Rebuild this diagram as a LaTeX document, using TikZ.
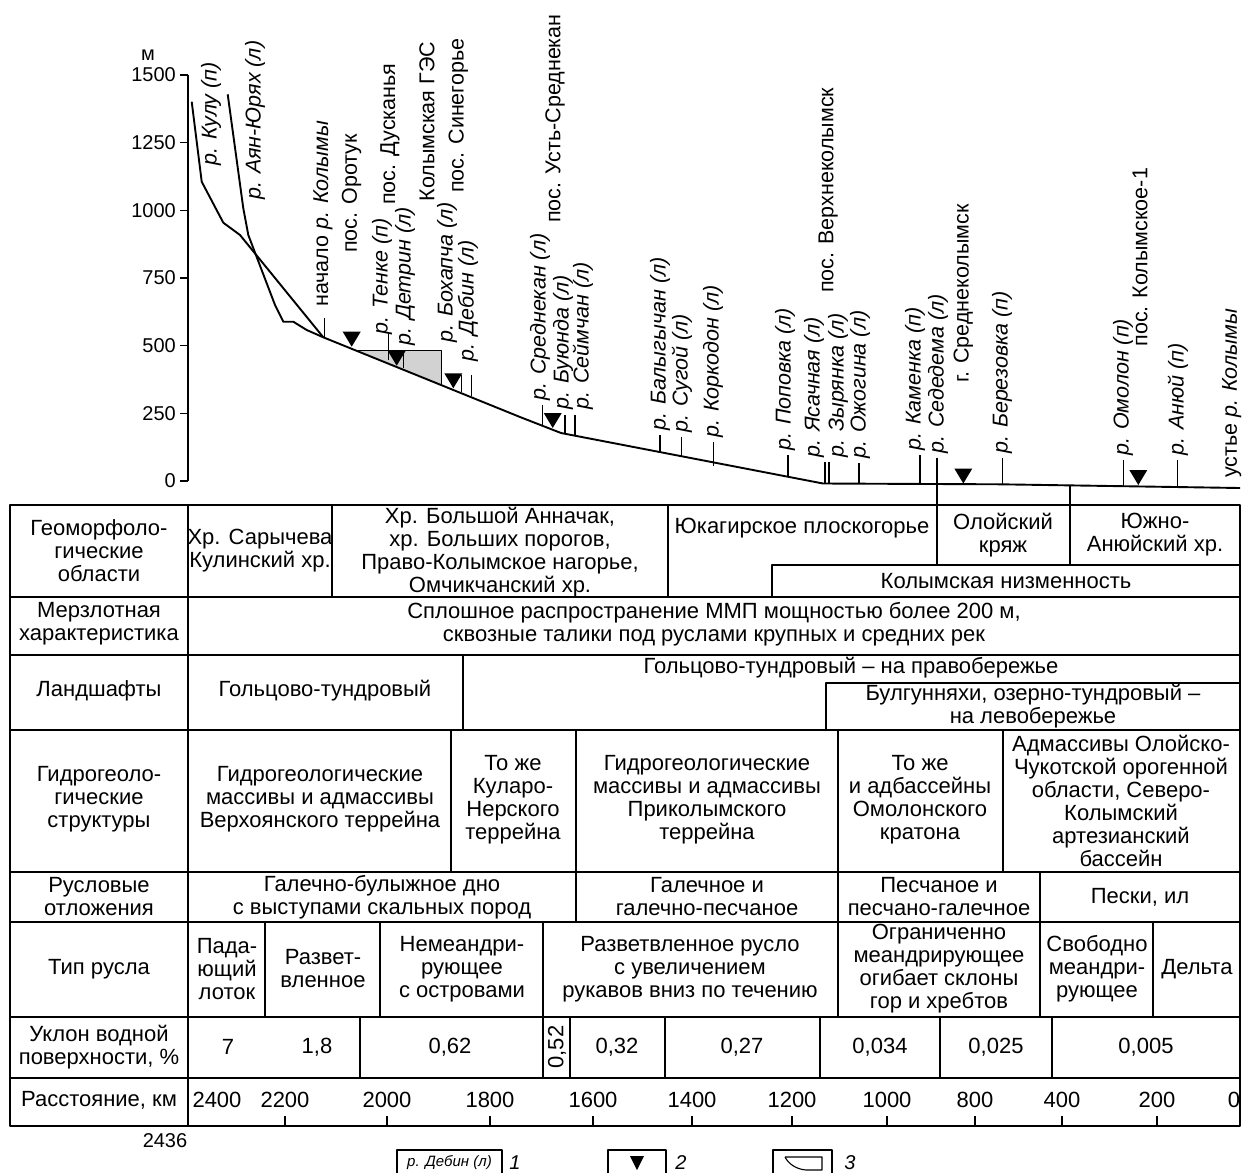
\documentclass[tikz,border=0pt]{standalone}
\usepackage{fontspec}
\setmainfont{Liberation Sans}
\begin{document}
\begin{tikzpicture}[x=1pt,y=-1pt,line join=round]
    \tikzstyle{cell}=[align=center,inner sep=0pt,font=\fontsize{22}{23}\selectfont]
    \tikzstyle{river}=[rotate=90,anchor=west,inner sep=0pt,font=\fontsize{21.5}{23}\selectfont\itshape]
    \tikzstyle{place}=[rotate=90,anchor=west,inner sep=0pt,font=\fontsize{21.5}{23}\selectfont]
    \tikzstyle{rule}=[line width=1.6pt]
    \tikzstyle{thin}=[line width=1.1pt]
    \tikzstyle{profile}=[line width=1.9pt]
    \useasboundingbox (0,0) rectangle (1242,1173);

    % height axis
    \draw[thin] (188,75) -- (188,481);
    \foreach \h/\y in {0/481, 250/413.3, 500/345.7, 750/278, 1000/210.3, 1250/142.7, 1500/75}
        {\draw[thin] (180,\y) -- (188,\y);
         \node[anchor=east,inner sep=0pt,font=\fontsize{20}{22}\selectfont] (ax-\h) at (176,\y) {\h};}
    \node[font=\fontsize{20}{22}\selectfont] (ax-unit) at (148,55) {м};

    % reservoir
    \fill[gray!35] (358,350.6) -- (441.7,350.6) -- (441.7,384.8) -- cycle;
    \draw[thin] (358,350.6) -- (441.7,350.6) -- (441.7,384.8);

    % profiles
    \draw[profile] (191.7,101.7) -- (201.7,181.7) -- (223.3,222.7) -- (240,235) -- (323.3,337.3);
    \draw[profile] (227.7,94.3) -- (243.3,208.3) -- (248.3,235) -- (275,305) -- (283.3,321.7)
        -- (293.3,321.7) -- (306.7,330) -- (323.3,337.3);
    \draw[profile] (323.3,337.3) -- (520,417) -- (561,433) -- (823,483.5) -- (1000,484.3) -- (1240,488);

    % tributaries
    \foreach \x/\t/\b in {324.5/318/337, 388.3/333/360, 403.3/350/368, 461.7/375/392, 471.7/375/396,
            542.7/405/426, 565/415/433, 575/415/435, 660/435/452, 681.7/437/456, 713.3/442/466,
            788/455/476, 825/462/483.5, 829/462/483.5, 859/463/483.5, 920/455/483.5,
            1002.5/458/484.3, 1123.3/460/485.5, 1177.7/460/486.5}
        \draw[thin] (\x,\t) -- (\x,\b);

    % gauging stations
    \foreach \x/\t in {351.7/331.7, 396.7/350.7, 453.3/373.3, 552.7/413, 963.3/468.5, 1138.3/470}
        \fill ({\x-9},\t) -- ({\x+9},\t) -- (\x,{\t+15}) -- cycle;

    \foreach \x/\y/\txt [count=\i] in {211/166/{р. Кулу (п)}, 255/200/{р. Аян-Юрях (л)},
            382/335/{р. Тенке (п)}, 405/346/{р. Детрин (л)}, 447/343/{р. Бохапча (л)},
            468/362/{р. Дебин (л)}, 540/401/{р. Среднекан (л)}, 563/410/{р. Буюнда (л)},
            583/410/{р. Сеймчан (л)}, 660/431/{р. Балыгычан (л)}, 682/433/{р. Сугой (л)},
            713/438/{р. Коркодон (л)}, 785/451/{р. Поповка (л)}, 814/458/{р. Ясачная (л)},
            838/458/{р. Зырянка (л)}, 860/459/{р. Ожогина (л)}, 915/451/{р. Каменка (п)},
            938/454/{р. Седедема (л)}, 1002/454/{р. Березовка (п)}, 1123/456/{р. Омолон (п)},
            1178/456/{р. Анюй (п)}}
        \node[river] (riv-\i) at (\x,\y) {\txt};

    \foreach \x/\y/\txt [count=\i] in {323/307/{начало \textit{р. Колымы}}, 351.7/253/{пос. Оротук},
            390/205/{пос. Дусканья}, 427/201.7/{Колымская ГЭС}, 458.3/193/{пос. Синегорье},
            555/223/{пос. Усть-Среднекан}, 828.3/293/{пос. Верхнеколымск},
            963.3/383/{г. Среднеколымск}, 1140/346.7/{пос. Колымское-1},
            1231.7/478/{устье \textit{р. Колымы}}}
        \node[place] (set-\i) at (\x,\y) {\txt};

    % table
    \draw[rule] (10,505) rectangle (1240,1126);
    \foreach \y in {597, 655, 730, 872, 922, 1017, 1078}
        \draw[rule] (10,\y) -- (1240,\y);
    \draw[rule] (188,505) -- (188,1126);
    \draw[rule] (332,505) -- (332,597);
    \draw[rule] (668,505) -- (668,597);
    \draw[thin] (937,458) -- (937,505);
    \draw[rule] (937,505) -- (937,565);
    \draw[thin] (1070,485.5) -- (1070,505);
    \draw[rule] (1070,505) -- (1070,565);
    \draw[rule] (1240,565) -- (772,565) -- (772,597);
    \draw[rule] (463,655) -- (463,730);
    \draw[rule] (1240,683) -- (826,683) -- (826,730);
    \foreach \x in {451, 576, 838, 1003} \draw[rule] (\x,730) -- (\x,872);
    \foreach \x in {576, 838, 1040} \draw[rule] (\x,872) -- (\x,922);
    \foreach \x in {265, 380, 543, 838, 1040, 1153} \draw[rule] (\x,922) -- (\x,1017);
    \foreach \x in {360, 543, 570, 665, 820, 940, 1052} \draw[rule] (\x,1017) -- (\x,1078);
    \foreach \x in {285, 387, 490, 593, 692, 792, 887, 975, 1062, 1157} \draw[thin] (\x,1116) -- (\x,1126);

    \node[cell] (geo-lbl) at (99,551) {Геоморфоло-\\гические\\области};
    \node[cell] (frz-lbl) at (99,624) {Мерзлотная\\характеристика};
    \node[cell] (lnd-lbl) at (99,691) {Ландшафты};
    \node[cell] (hyd-lbl) at (99,799) {Гидрогеоло-\\гические\\структуры};
    \node[cell] (dep-lbl) at (99,897) {Русловые\\отложения};
    \node[cell] (typ-lbl) at (99,969) {Тип русла};
    \node[cell] (slp-lbl) at (99,1047) {Уклон водной\\поверхности, \%};
    \node[cell] (dst-lbl) at (99,1100) {Расстояние, км};

    \node[cell] (geo-1) at (260,551) {Хр. Сарычева\\Кулинский хр.};
    \node[cell] (geo-2) at (500,552) {Хр. Большой Анначак,\\хр. Больших порогов,\\Право-Колымское нагорье,\\Омчикчанский хр.};
    \node[cell] (geo-3) at (802,528) {Юкагирское плоскогорье};
    \node[cell] (geo-4) at (1003,535) {Олойский\\кряж};
    \node[cell] (geo-5) at (1155,535) {Южно-\\Анюйский хр.};
    \node[cell] (geo-6) at (1006,581) {Колымская низменность};

    \node[cell] (frz-1) at (714,624) {Сплошное распространение ММП мощностью более 200 м,\\сквозные талики под руслами крупных и средних рек};

    \node[cell] (lnd-1) at (325,691) {Гольцово-тундровый};
    \node[cell] (lnd-2) at (851,668) {Гольцово-тундровый – на правобережье};
    \node[cell] (lnd-3) at (1033,706) {Булгунняхи, озерно-тундровый –\\на левобережье};

    \node[cell] (hyd-1) at (320,799) {Гидрогеологические\\массивы и адмассивы\\Верхоянского террейна};
    \node[cell] (hyd-2) at (513,800) {То же\\Куларо-\\Нерского\\террейна};
    \node[cell] (hyd-3) at (707,800) {Гидрогеологические\\массивы и адмассивы\\Приколымского\\террейна};
    \node[cell] (hyd-4) at (920,800) {То же\\и адбассейны\\Омолонского\\кратона};
    \node[cell] (hyd-5) at (1121,801) {Адмассивы Олойско-\\Чукотской орогенной\\области, Северо-\\Колымский\\артезианский\\бассейн};

    \node[cell] (dep-1) at (382,897) {Галечно-булыжное дно\\с выступами скальных пород};
    \node[cell] (dep-2) at (707,897) {Галечное и\\галечно-песчаное};
    \node[cell] (dep-3) at (939,897) {Песчаное и\\песчано-галечное};
    \node[cell] (dep-4) at (1140,897) {Пески, ил};

    \node[cell] (typ-1) at (227,969) {Пада-\\ющий\\лоток};
    \node[cell] (typ-2) at (323,969) {Развет-\\вленное};
    \node[cell] (typ-3) at (462,969) {Немеандри-\\рующее\\с островами};
    \node[cell] (typ-4) at (690,969) {Разветвленное русло\\с увеличением\\рукавов вниз по течению};
    \node[cell] (typ-5) at (939,969) {Ограниченно\\меандрирующее\\огибает склоны\\гор и хребтов};
    \node[cell] (typ-6) at (1097,969) {Свободно\\меандри-\\рующее};
    \node[cell] (typ-7) at (1197,969) {Дельта};

    \foreach \x/\v [count=\i] in {228/7, 317/{1,8}, 450/{0,62}, 617/{0,32}, 742/{0,27},
            880/{0,034}, 996/{0,025}, 1146/{0,005}}
        \node[cell] (slp-\i) at (\x,1047) {\v};
    \node[cell,rotate=90] (slp-r) at (557,1047) {0,52};

    \foreach \x/\v in {217/2400, 285/2200, 387/2000, 490/1800, 593/1600, 692/1400, 792/1200,
            887/1000, 975/800, 1062/400, 1157/200, 1234/0}
        \node[cell] (dst-\v) at (\x,1100) {\v};
    \node[font=\fontsize{20}{22}\selectfont,inner sep=0pt] (dst-end) at (165,1141) {2436};

    % legend
    \draw[thin] (397,1173) -- (397,1150) -- (502,1150) -- (502,1173);
    \node[font=\fontsize{15}{17}\selectfont\itshape,inner sep=0pt] (leg-1) at (449.5,1163) {р. Дебин (л)};
    \node[font=\fontsize{20}{22}\selectfont\itshape,inner sep=0pt] (num-1) at (515,1163) {1};
    \draw[thin] (608,1173) -- (608,1150) -- (666,1150) -- (666,1173);
    \fill (630,1156) -- (644,1156) -- (637,1170) -- cycle;
    \node[font=\fontsize{20}{22}\selectfont\itshape,inner sep=0pt] (num-2) at (681,1163) {2};
    \draw[thin] (773,1173) -- (773,1150) -- (832,1150) -- (832,1173);
    \draw[thin] (785,1157) -- (822,1157) -- (822,1170) -- (806,1170) .. controls (795,1169) and (788,1163) .. (785,1157);
    \node[font=\fontsize{20}{22}\selectfont\itshape,inner sep=0pt] (num-3) at (850,1163) {3};
\end{tikzpicture}
\end{document}
